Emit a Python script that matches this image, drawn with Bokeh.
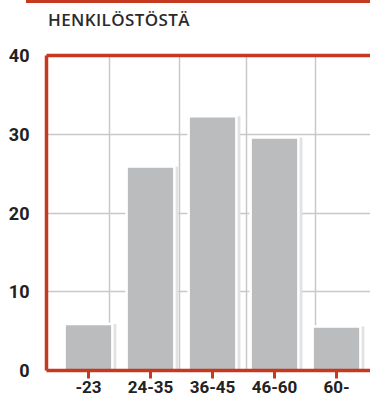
from bokeh.plotting import figure
from bokeh.models import (FixedTicker, LinearAxis, Range1d, ColumnDataSource, Spacer, Div)
from bokeh.layouts import column
from bokeh.transform import dodge
from bokeh.embed import file_html
from bokeh.resources import INLINE

title_text = "HENKILÖSTÖSTÄ"
categories = ["-23", "24-35", "36-45", "46-60", "60-"]
values = [5.9, 25.9, 32.3, 29.6, 5.6]
y_ticks = [0, 10, 20, 30, 40]

RED = "#c4391f"
FONT = "Roboto"

xs = list(range(len(categories)))
src = ColumnDataSource(dict(x=xs, top=values, label=categories))

p = figure(width=370, height=360, output_backend="svg", toolbar_location=None,
           x_range=Range1d(-0.677, 4.548), y_range=Range1d(0, 40),
           min_border_left=46, min_border_right=0, min_border_top=15, min_border_bottom=30,
           background_fill_color="white", border_fill_color="white")
p.outline_line_color = None

# soft shadow and bars
p.vbar(x=dodge("x", 0.05, range=p.x_range), top="top", width=0.8, bottom=0, source=src,
       fill_color="#e2e2e2", line_color=None)
p.vbar(x="x", top="top", width=0.77, bottom=0, source=src,
       fill_color="#bbbcbe", line_color="white", line_width=2.5)

# axes styling
p.yaxis.ticker = FixedTicker(ticks=y_ticks)
p.yaxis.axis_line_color = RED
p.yaxis.axis_line_width = 3.5
p.yaxis.major_tick_line_color = None
p.yaxis.minor_tick_line_color = None
p.yaxis.major_label_text_font = FONT
p.yaxis.major_label_text_font_style = "bold"
p.yaxis.major_label_text_font_size = "18px"
p.yaxis.major_label_text_color = "#222222"
p.yaxis.major_label_standoff = 11

p.xaxis.ticker = FixedTicker(ticks=xs)
p.xaxis.major_label_overrides = {i: c for i, c in zip(xs, categories)}
p.xaxis.axis_line_color = RED
p.xaxis.axis_line_width = 3.5
p.xaxis.major_tick_line_color = RED
p.xaxis.major_tick_line_width = 3
p.xaxis.major_tick_out = 8
p.xaxis.major_tick_in = 0
p.xaxis.minor_tick_line_color = None
p.xaxis.major_label_text_font = FONT
p.xaxis.major_label_text_font_style = "bold"
p.xaxis.major_label_text_font_size = "17px"
p.xaxis.major_label_text_color = "#222222"
p.xaxis.major_label_standoff = 2

top_axis = LinearAxis(ticker=FixedTicker(ticks=[]), axis_line_color=RED, axis_line_width=3.5,
                      major_tick_line_color=None, minor_tick_line_color=None,
                      major_label_text_alpha=0)
p.add_layout(top_axis, "above")

# grids
p.ygrid.ticker = FixedTicker(ticks=[10, 20, 30])
p.ygrid.grid_line_color = "#c8c8c8"
p.ygrid.grid_line_width = 1.5
p.xgrid.ticker = FixedTicker(ticks=[0.34, 1.47, 2.55, 3.66])
p.xgrid.grid_line_color = "#c8c8c8"
p.xgrid.grid_line_width = 1.5

# red rule at the very top, then the heading
rule = Spacer(width=344, height=3, margin=(0, 0, 0, 26), styles={"background-color": RED})
heading = Div(text=title_text, width=370, height=37, margin=0,
              styles={"font-family": "Open Sans", "font-size": "17px", "font-weight": "600",
                      "color": "#2a2a2a", "padding-left": "48px", "line-height": "34px",
                      "letter-spacing": "0.4px"})
layout = column(rule, heading, p, spacing=0)

open("out.html", "w").write(file_html(layout, INLINE))
